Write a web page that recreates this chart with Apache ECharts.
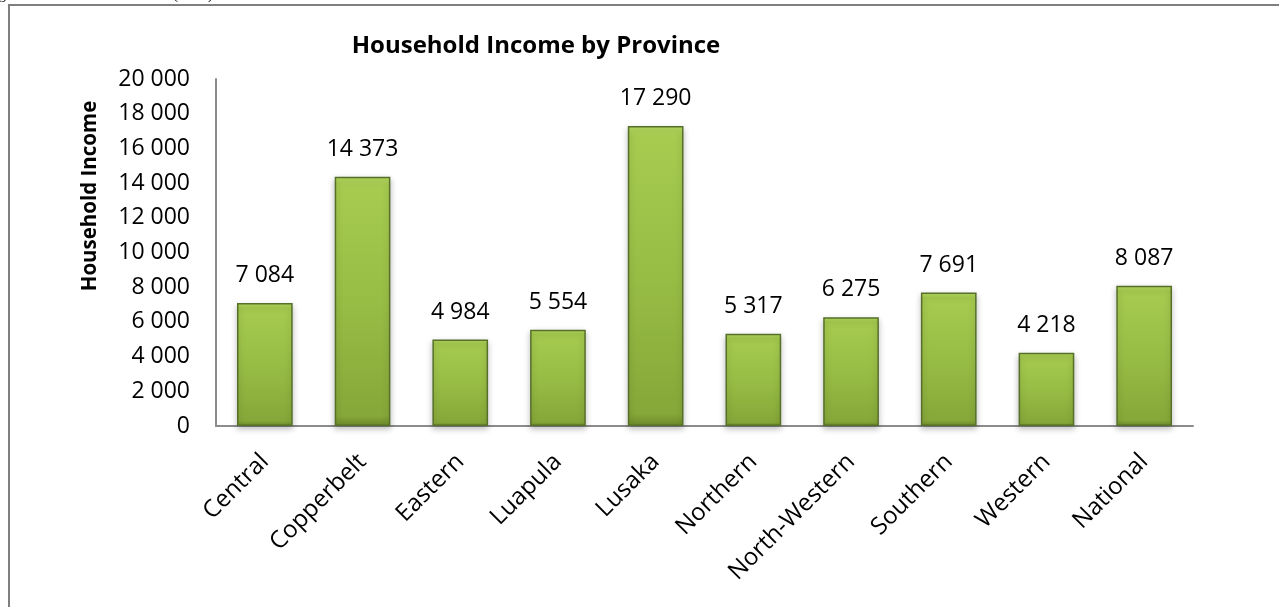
<!DOCTYPE html>
<html>
<head>
<meta charset="utf-8">
<script src="https://cdn.jsdelivr.net/npm/echarts@6/dist/echarts.min.js"></script>
<style>
  html, body { margin: 0; padding: 0; background: #ffffff; }
  #chart { width: 1279px; height: 607px; }
</style>
</head>
<body>
<div id="chart"></div>
<script>
// Provinces and average household income
const provinces = ['Central', 'Copperbelt', 'Eastern', 'Luapula', 'Lusaka', 'Northern', 'North-Western', 'Southern', 'Western', 'National'];
const income = [7084, 14373, 4984, 5554, 17290, 5317, 6275, 7691, 4218, 8087];
const yTicks = { min: 0, max: 20000, interval: 2000 };

// Thousands separated by a space, e.g. 14 373
function spaced(v) {
  return String(Math.round(v)).replace(/\B(?=(\d{3})+(?!\d))/g, ' ');
}

const FONT = '"Open Sans", Lato, sans-serif';

const chart = echarts.init(document.getElementById('chart'), null, { renderer: 'canvas' });

chart.setOption({
  backgroundColor: '#ffffff',
  animation: false,
  title: {
    text: 'Household Income by Province',
    left: 531,
    top: 29,
    textAlign: 'center',
    textStyle: { fontFamily: FONT, fontSize: 24, fontWeight: 'bold', color: '#000' }
  },
  graphic: [
    {
      type: 'rect',
      shape: { x: 9, y: 5, width: 1290, height: 620 },
      style: { fill: 'none', stroke: '#7f7f7f', lineWidth: 2 },
      silent: true
    },
    {
      type: 'text',
      left: -14,
      top: -12,
      style: { text: 'Figure 4.1: Household Income (2000)', font: '15px "Liberation Serif", serif', fill: '#000' },
      silent: true
    },
    {
      // vertical axis title
      type: 'text',
      x: 90,
      y: 196,
      rotation: Math.PI / 2,
      style: {
        text: 'Household Income',
        font: 'bold 20.5px "Open Sans", sans-serif',
        fill: '#000',
        align: 'center',
        verticalAlign: 'middle'
      },
      silent: true
    }
  ],
  grid: { left: 216, top: 79, right: 86, bottom: 181, containLabel: false },
  xAxis: {
    type: 'category',
    data: provinces,
    axisLine: { show: true, lineStyle: { color: '#8c8c8c', width: 2 } },
    axisTick: { show: false },
    axisLabel: {
      rotate: 45,
      interval: 0,
      margin: 32,
      fontFamily: FONT,
      fontSize: 24,
      color: '#000'
    }
  },
  yAxis: {
    type: 'value',
    min: yTicks.min,
    max: yTicks.max,
    interval: yTicks.interval,
    axisLine: { show: true, lineStyle: { color: '#8c8c8c', width: 2 } },
    axisTick: { show: false },
    splitLine: { show: false },
    axisLabel: {
      margin: 26,
      fontFamily: FONT,
      fontSize: 23,
      color: '#000',
      formatter: spaced
    }
  },
  series: [
    {
      type: 'bar',
      data: income,
      barCategoryGap: '43%',
      itemStyle: {
        color: new echarts.graphic.LinearGradient(0, 0, 0, 1, [
          { offset: 0, color: '#b6da60' },
          { offset: 0.04, color: '#a6cb4f' },
          { offset: 0.5, color: '#98bd45' },
          { offset: 0.96, color: '#86a739' },
          { offset: 1, color: '#6d8a2b' }
        ]),
        borderColor: '#56702a',
        borderWidth: 1.5,
        shadowColor: 'rgba(0,0,0,0.25)',
        shadowBlur: 6,
        shadowOffsetY: 3
      },
      label: {
        show: true,
        position: 'top',
        distance: 16,
        fontFamily: FONT,
        fontSize: 23,
        color: '#000',
        formatter: p => spaced(p.value)
      }
    }
  ]
});
</script>
</body>
</html>
